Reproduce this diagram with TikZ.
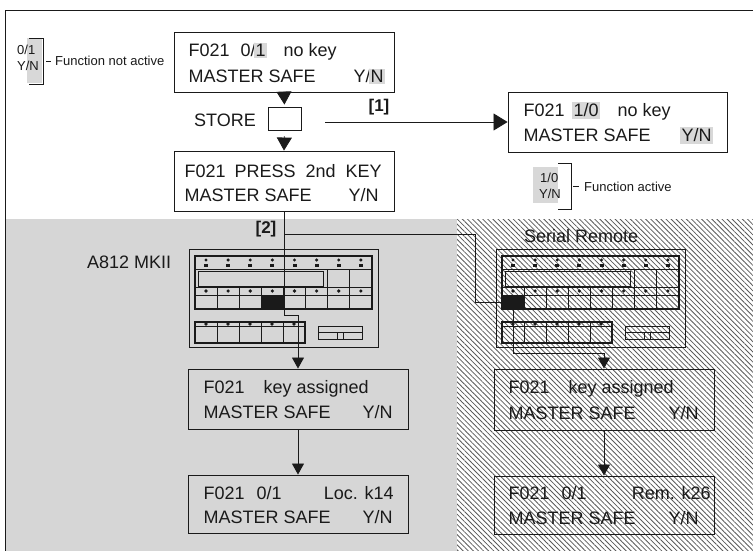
\documentclass[tikz,border=0pt]{standalone}
\usepackage{fontspec}
\setmainfont{Liberation Sans}
\usetikzlibrary{arrows.meta,patterns.meta}
\definecolor{ink}{HTML}{1A1A1A}
\definecolor{hlgray}{HTML}{D8D8D8}
\definecolor{dotgray}{HTML}{D6D6D6}
\definecolor{hatch}{HTML}{5A5A5A}
\newcommand\tok[2]{\makebox[0pt][l]{\hspace*{#1pt}#2}}
\newcommand\rtok[2]{\makebox[0pt][l]{\hspace*{#1pt}\makebox[0pt][r]{#2}}}
\newcommand\hl[1]{{\setlength{\fboxsep}{1.5pt}\hspace*{-1.5pt}\colorbox{hlgray}{#1}\hspace*{-1.5pt}}}
\newcommand\kbd[4]{%
 \begin{scope}[shift={(#1,#2)}]
  \draw[kb] (-6,-7) rectangle (183,91);
  \draw[kb, line width=1.1pt] (0,0) rectangle (177,53);
  \draw[kb] (0,13) -- (177,13) (0,31) -- (177,31) (0,39) -- (177,39);
  \draw[kb] (3,15) rectangle (128,30);
  \foreach \i in {1,...,5} \draw[kb] (22.125*\i,31) -- (22.125*\i,53);
  \foreach \i in {6,7} \draw[kb] (22.125*\i,13) -- (22.125*\i,53);
  \foreach \i in {0,...,7} {\fill[ink] (11+22.125*\i,4) circle (1.7);
    \fill[ink] (9+22.125*\i,7.5) rectangle (13+22.125*\i,10.5);
    \fill[ink] (11+22.125*\i,35) circle (1.8);}
  \node[blackkey] (#4) at (22.125*#3+11,46) {};
  \draw[kb, line width=1.1pt] (0,66) rectangle (110,87);
  \draw[kb] (0,70) -- (110,70);
  \foreach \i in {1,...,4} \draw[kb] (22*\i,66) -- (22*\i,87);
  \foreach \i in {0,...,4} \fill[ink] (11+22*\i,68) circle (1.8);
  \draw[kb] (123,70) rectangle (167,83) (123,76.5) -- (167,76.5) (142,76.5) -- (142,83) (148,76.5) -- (148,83);
 \end{scope}}
\begin{document}
\begin{tikzpicture}[x=1pt,y=-1pt,
  box/.style={draw=ink, line width=0.9pt, minimum width=220pt, minimum height=60pt, inner sep=0pt},
  lcd/.style={font=\fontsize{18}{20}\selectfont, text=ink, anchor=base west, inner sep=0pt},
  small/.style={font=\fontsize{13}{15}\selectfont, text=ink, anchor=base west, inner sep=0pt},
  lbl/.style={font=\fontsize{18}{20}\selectfont, text=ink, anchor=base west, inner sep=0pt},
  tag/.style={font=\bfseries\fontsize{17}{19}\selectfont, text=ink, anchor=base, inner sep=0pt},
  conn/.style={draw=ink, line width=0.8pt},
  bigtri/.style={conn, -{Triangle[length=13pt,width=15pt]}},
  smalltri/.style={conn, -{Triangle[length=11pt,width=12pt]}},
  kb/.style={draw=ink, line width=0.9pt},
  blackkey/.style={fill=ink, draw=ink, minimum width=22pt, minimum height=14pt, inner sep=0pt},
]
\useasboundingbox (0,0) rectangle (753,551);
\fill[white] (0,0) rectangle (753,551);
\fill[dotgray] (5,219) rectangle (457,551);
\fill[pattern={Lines[angle=-45,distance=3.6pt,line width=0.8pt]}, pattern color=hatch] (457,219) rectangle (753,551);
\draw[ink, line width=0.9pt] (5,551) -- (5,10) -- (753,10);

% legends
\fill[hlgray] (27,38) rectangle (42,83);
\node[small] (lg1) at (17,55) {0/1};
\node[small] (lg2) at (17,71) {Y/N};
\draw[conn] (29,38) -- (43,38) -- (43,84) -- (29,84);
\draw[conn] (46,61) -- (51,61);
\node[small] (lg3) at (55,66) {Function not active};
\fill[hlgray] (533,167) rectangle (558,203);
\node[small] (lg4) at (540,182) {1/0};
\node[small] (lg5) at (539,198) {Y/N};
\draw[conn] (558,163) -- (571,163) -- (571,209) -- (558,209);
\draw[conn] (573,186) -- (579,186);
\node[small] (lg6) at (584,191) {Function active};

% boxes
\node[box] (b1) at (284,62) {};
\node[box] (b2) at (284,181) {};
\node[box, minimum width=219pt] (b3) at (617.5,122) {};
\node[draw=ink, line width=0.9pt, minimum width=33pt, minimum height=23pt, inner sep=0pt] (store) at (284.5,118.5) {};
\node[box] (kaL) at (298,399) {};
\node[box, minimum height=58pt] (bL) at (298,504) {};
\node[box, minimum height=61pt] (kaR) at (604,399.5) {};
\node[box, minimum height=58pt] (bR) at (604,505) {};

% box texts
\node[lcd] (b1a) at (188,57) {\tok{0}{F021}\tok{52}{0/\hl{1}}\tok{95}{no key}};
\node[lcd] (b1b) at (188,83) {\tok{0}{MASTER SAFE}\rtok{195}{Y/\hl{N}}};
\node[lcd] (b2a) at (184,177) {\tok{0}{F021}\tok{50}{PRESS}\tok{121}{2nd}\tok{161}{KEY}};
\node[lcd] (b2b) at (184,201) {\tok{0}{MASTER SAFE}\rtok{194}{Y/N}};
\node[lcd] (b3a) at (523,117) {\tok{0}{F021}\tok{50}{\hl{1/0}}\tok{94}{no key}};
\node[lcd] (b3b) at (523,142) {\tok{0}{MASTER SAFE}\rtok{188}{\hl{Y/N}}};
\node[lcd] (kaLa) at (203,393) {\tok{0}{F021}\tok{60}{key assigned}};
\node[lcd] (kaLb) at (203,418) {\tok{0}{MASTER SAFE}\rtok{189}{Y/N}};
\node[lcd] (bLa) at (203,499) {\tok{0}{F021}\tok{53}{0/1}\rtok{190}{Loc. k14}};
\node[lcd] (bLb) at (203,523) {\tok{0}{MASTER SAFE}\rtok{189}{Y/N}};
\node[lcd] (kaRa) at (508,393) {\tok{0}{F021}\tok{60}{key assigned}};
\node[lcd] (kaRb) at (508,419) {\tok{0}{MASTER SAFE}\rtok{190}{Y/N}};
\node[lcd] (bRa) at (508,499) {\tok{0}{F021}\tok{53}{0/1}\rtok{202}{Rem. k26}};
\node[lcd] (bRb) at (508,524) {\tok{0}{MASTER SAFE}\rtok{190}{Y/N}};

% labels
\node[lbl] (st) at (194,126) {STORE};
\node[lbl] (a812) at (87,268) {A812 MKII};
\node[lbl] (sr) at (524,242) {Serial Remote};

% keyboards
\kbd{195}{256}{3}{keyL}
\kbd{502}{256}{0}{keyR}

% connectors
\draw[bigtri, shorten >=2pt] (b1.south) -- (store.north);
\draw[bigtri, shorten <=6pt] (store.south) -- (b2.north);
\coordinate (s1) at (325,122);
\draw[conn, -{Triangle[length=14pt,width=17pt]}] (s1) -- (b3.west);
\node[tag] (t1) at (379,111.5) {[1]};
\coordinate (c0) at (0,315);
\draw[smalltri] (b2.south) -- (b2.south |- c0) -| (kaL.north);
\coordinate (j2) at (284,234);
\coordinate (c1) at (475,234);
\draw[conn] (j2) -- (c1) |- (keyR.west);
\node[tag] (t2) at (266,233.5) {[2]};
\coordinate (c2) at (0,353);
\draw[smalltri] (keyR.south) -- (keyR.south |- c2) -| (kaR.north);
\draw[smalltri] (kaL.south) -- (bL.north);
\draw[smalltri] (kaR.south) -- (bR.north);
\end{tikzpicture}
\end{document}
